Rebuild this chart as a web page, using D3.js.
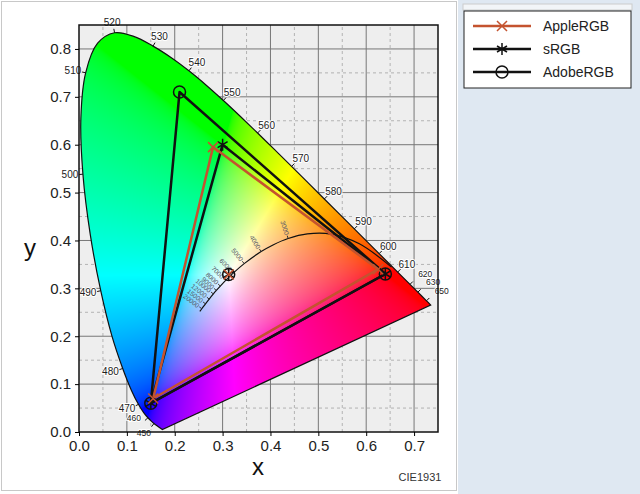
<!DOCTYPE html>
<html><head><meta charset="utf-8">
<script src="https://cdn.jsdelivr.net/npm/d3@7"></script>
<style>
body{margin:0;background:#fff;font-family:"Liberation Sans",Arial,sans-serif}
</style></head>
<body><svg id="chart" width="640" height="494"></svg>
<script>
// spectral locus (CIE 1931)
var waves = [380,450,455,460,465,470,475,480,485,490,495,500,505,510,515,520,525,530,535,540,545,550,555,560,565,570,575,580,585,590,595,600,605,610,620,630,650,700];
var locusX = [.1741,.1566,.1510,.1440,.1355,.1241,.1096,.0913,.0687,.0454,.0235,.0082,.0039,.0139,.0389,.0743,.1142,.1547,.1929,.2296,.2658,.3016,.3373,.3731,.4087,.4441,.4788,.5125,.5448,.5752,.6029,.6270,.6482,.6658,.6915,.7079,.7260,.7347];
var locusY = [.0050,.0177,.0227,.0297,.0399,.0578,.0868,.1327,.2007,.2950,.4127,.5384,.6548,.7502,.8120,.8338,.8262,.8059,.7816,.7543,.7243,.6923,.6589,.6245,.5896,.5547,.5202,.4866,.4544,.4242,.3965,.3725,.3514,.3340,.3083,.2920,.2740,.2653];
var waveLabels = [450,460,470,480,490,500,510,520,530,540,550,560,570,580,590,600,610,620,630,650];

// planckian locus
var temps = [1000,1500,2000,2500,3000,3500,4000,5000,6000,7000,8000,9000,10000,12000,15000,20000,25000];
var planckX = [.6528,.5857,.5267,.4770,.4369,.4053,.3805,.3451,.3221,.3064,.2952,.2869,.2807,.2720,.2642,.2565,.2524];
var planckY = [.3444,.3931,.4133,.4137,.4041,.3907,.3768,.3516,.3318,.3166,.3048,.2956,.2883,.2776,.2677,.2574,.2521];
var tempLabels = [3000,4000,5000,6000,7000,8000,9000,10000,12000,15000,20000];

// gamuts: R, G, B
var gamutNames = ["AppleRGB","sRGB","AdobeRGB"];
var gamutX = [[.625,.28,.155],[.64,.30,.15],[.64,.21,.15]];
var gamutY = [[.34,.595,.07],[.33,.60,.06],[.33,.71,.06]];
var whiteX = .3127, whiteY = .329;
var xTicks = [0,.1,.2,.3,.4,.5,.6,.7];
var yTicks = [0,.1,.2,.3,.4,.5,.6,.7,.8];

var svg = d3.select("#chart");
svg.append("rect").attr("x",458).attr("y",0).attr("width",182).attr("height",494).attr("fill","#dfe8f2");
svg.append("rect").attr("x",1.5).attr("y",1.5).attr("width",455).attr("height",489).attr("fill","#fff").attr("stroke","#c8c8c8");

var x = d3.scaleLinear().domain([0,.75]).range([79,438]);
var y = d3.scaleLinear().domain([0,.85]).range([432,25]);

svg.append("rect").attr("x",x(0)).attr("y",y(.85)).attr("width",x(.75)-x(0)).attr("height",y(0)-y(.85)).attr("fill","#eeeeee");
var grid = svg.append("g");
d3.range(0.05,.75,.05).forEach(function(v){
  var major = Math.abs(v*10-Math.round(v*10))<1e-6;
  grid.append("line").attr("x1",x(v)).attr("x2",x(v)).attr("y1",y(0)).attr("y2",y(.85))
    .attr("stroke",major?"#777":"#999").attr("stroke-width",major?1:0.7).attr("stroke-dasharray",major?null:"3,3");
});
d3.range(0.05,.85,.05).forEach(function(v){
  var major = Math.abs(v*10-Math.round(v*10))<1e-6;
  grid.append("line").attr("y1",y(v)).attr("y2",y(v)).attr("x1",x(0)).attr("x2",x(.75))
    .attr("stroke",major?"#777":"#999").attr("stroke-width",major?1:0.7).attr("stroke-dasharray",major?null:"3,3");
});

// colour fill
var pts = waves.map(function(w,i){return [x(locusX[i]),y(locusY[i])];});
var line = d3.line();
var smooth = d3.line().curve(d3.curveCatmullRom.alpha(0.5));
var locusPath = smooth(pts) + "Z";
svg.append("clipPath").attr("id","loc").append("path").attr("d",locusPath);
var x0=79,y0=25,W=360,H=408;
var cv = document.createElement("canvas"); cv.width=W; cv.height=H;
var ctx = cv.getContext("2d"), img = ctx.createImageData(W,H);
function gam(c){c=Math.max(0,c);return c<=.0031308?12.92*c:1.055*Math.pow(c,1/2.4)-.055;}
for (var j=0;j<H;j++) for (var i=0;i<W;i++){
  var cx=x.invert(x0+i), cy=y.invert(y0+j); if(cy<=0.001) cy=0.001;
  var X=cx/cy, Y=1, Z=(1-cx-cy)/cy;
  var r=3.2406*X-1.5372*Y-0.4986*Z, g=-0.9689*X+1.8758*Y+0.0415*Z, b=0.0557*X-0.2040*Y+1.0570*Z;
  r=Math.max(0,r);g=Math.max(0,g);b=Math.max(0,b);
  var m=Math.max(r,g,b)||1; r/=m;g/=m;b/=m;
  var k=(j*W+i)*4;
  img.data[k]=255*gam(r);img.data[k+1]=255*gam(g);img.data[k+2]=255*gam(b);img.data[k+3]=255;
}
ctx.putImageData(img,0,0);
svg.append("image").attr("href",cv.toDataURL()).attr("x",x0).attr("y",y0).attr("width",W).attr("height",H).attr("clip-path","url(#loc)");
svg.append("path").attr("d",locusPath).attr("fill","none").attr("stroke","#111").attr("stroke-width",1.2);

// wavelength ticks
waveLabels.forEach(function(w){
  var i = waves.indexOf(w), a=pts[Math.max(0,i-1)], b=pts[Math.min(pts.length-1,i+1)];
  var dx=b[0]-a[0], dy=b[1]-a[1], L=Math.hypot(dx,dy), nx=dy/L, ny=-dx/L;
  var p=pts[i], crowd = (w>=620 || w<=460);
  var lx, ly;
  if (w>=620) { lx = p[0]+nx*6+11; ly = p[1]+ny*6-3; }
  else if (w===460) { lx = p[0]-14; ly = p[1]+3; }
  else if (w===450) { lx = p[0]-10; ly = p[1]+12; }
  else { lx = p[0]+nx*13; ly = p[1]+ny*10+3; }
  svg.append("line").attr("x1",p[0]).attr("y1",p[1]).attr("x2",p[0]+nx*4).attr("y2",p[1]+ny*4).attr("stroke","#111");
  svg.append("text").attr("x",lx).attr("y",ly).attr("text-anchor","middle")
    .attr("font-size",crowd?8.5:10).attr("fill","#222").attr("stroke","#fff").attr("stroke-width",2).attr("paint-order","stroke").text(w);
});

// planckian locus
var pp = temps.map(function(t,i){return [x(planckX[i]),y(planckY[i])];});
svg.append("path").attr("d",d3.line().curve(d3.curveCatmullRom)(pp)).attr("fill","none").attr("stroke","#111").attr("stroke-width",1.2);
tempLabels.forEach(function(t){
  var i=temps.indexOf(t), a=pp[i-1], b=pp[i+1];
  var dx=b[0]-a[0], dy=b[1]-a[1], L=Math.hypot(dx,dy), nx=dy/L, ny=-dx/L;
  if (ny>0){nx=-nx;ny=-ny;}
  var p=pp[i], ang=Math.atan2(ny,nx)*180/Math.PI;
  svg.append("line").attr("x1",p[0]).attr("y1",p[1]).attr("x2",p[0]+nx*3).attr("y2",p[1]+ny*3).attr("stroke","#333");
  svg.append("text").attr("transform","translate("+(p[0]+nx*4)+","+(p[1]+ny*4)+") rotate("+(ang+180)+")")
    .attr("text-anchor","end").attr("dy","0.35em").attr("font-size",6.5).attr("fill","#556").text(t);
});

// gamut triangles
var gColors = ["#c4532f","#111","#111"];
var draw = [2,1,0];
draw.forEach(function(k){
  var tp = gamutX[k].map(function(v,i){return [x(v),y(gamutY[k][i])];});
  svg.append("path").attr("d",line(tp)+"Z").attr("fill","none").attr("stroke",gColors[k]).attr("stroke-width",2.5).attr("stroke-linejoin","round");
});
function marker(g,k,px,py){
  if(k===0){var s=5;g.append("path").attr("d","M"+(px-s)+","+(py-s)+"L"+(px+s)+","+(py+s)+"M"+(px-s)+","+(py+s)+"L"+(px+s)+","+(py-s)).attr("stroke",gColors[0]).attr("stroke-width",1.5);}
  else if(k===1){var s=6;g.append("path").attr("d","M"+px+","+(py-s)+"V"+(py+s)+"M"+(px-5)+","+(py-3)+"L"+(px+5)+","+(py+3)+"M"+(px-5)+","+(py+3)+"L"+(px+5)+","+(py-3)).attr("stroke","#111").attr("stroke-width",1.5);}
  else g.append("circle").attr("cx",px).attr("cy",py).attr("r",6).attr("fill","none").attr("stroke","#111").attr("stroke-width",1.5);
}
draw.forEach(function(k){
  gamutX[k].forEach(function(v,i){marker(svg,k,x(v),y(gamutY[k][i]));});
  marker(svg,k,x(whiteX),y(whiteY));
});

// frame & axes
svg.append("rect").attr("x",x(0)).attr("y",y(.85)).attr("width",x(.75)-x(0)).attr("height",y(0)-y(.85)).attr("fill","none").attr("stroke","#111").attr("stroke-width",1.5);
var xa = svg.append("g").attr("transform","translate(0,"+y(0)+")").call(d3.axisBottom(x).tickValues(xTicks).tickFormat(d3.format(".1f")).tickSize(4).tickPadding(4));
var ya = svg.append("g").attr("transform","translate("+x(0)+",0)").call(d3.axisLeft(y).tickValues(yTicks).tickFormat(d3.format(".1f")).tickSize(4).tickPadding(4));
[xa,ya].forEach(function(a){a.select(".domain").remove();a.selectAll("text").attr("font-size",15).attr("font-family","Liberation Sans, Arial").attr("fill","#222");});
svg.append("text").attr("x",258).attr("y",475).attr("text-anchor","middle").attr("font-size",24).attr("fill","#111").text("x");
svg.append("text").attr("x",30).attr("y",256).attr("text-anchor","middle").attr("font-size",24).attr("fill","#111").text("y");
svg.append("text").attr("x",420).attr("y",481).attr("text-anchor","middle").attr("font-size",11).attr("fill","#333").text("CIE1931");

// legend
svg.append("rect").attr("x",463).attr("y",4).attr("width",169).attr("height",6).attr("fill","#f2f5f8").attr("stroke","#ccc");
svg.append("rect").attr("x",464).attr("y",11).attr("width",167).attr("height",77).attr("fill","#fff").attr("stroke","#222");
gamutNames.forEach(function(n,k){
  var ly=26+k*23;
  svg.append("line").attr("x1",473).attr("x2",531).attr("y1",ly).attr("y2",ly).attr("stroke",gColors[k]).attr("stroke-width",2.5);
  marker(svg,k,502,ly);
  svg.append("text").attr("x",543).attr("y",ly+5).attr("font-size",14).attr("fill","#222").text(n);
});
</script></body></html>
